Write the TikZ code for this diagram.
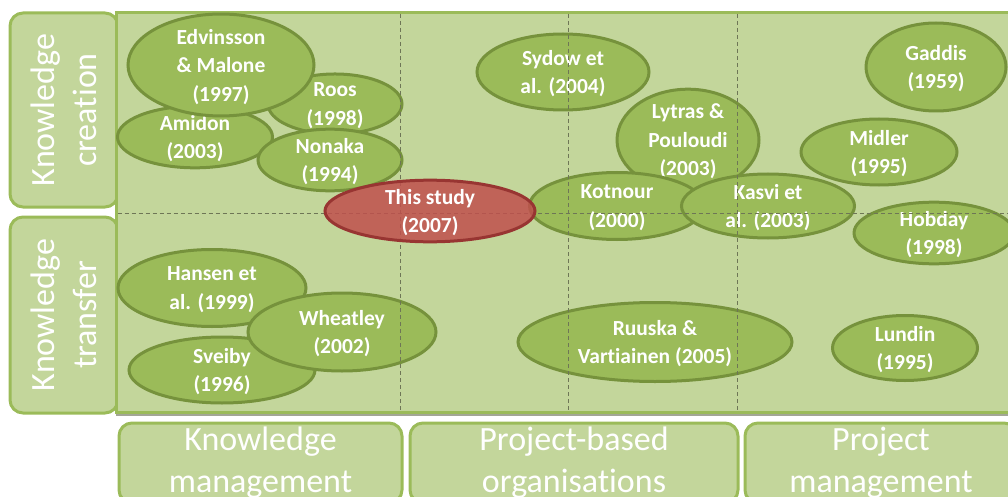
\documentclass[tikz,border=0pt]{standalone}
\usepackage{fontspec}
\setmainfont{Carlito}[Ligatures=NoCommon]
\usetikzlibrary{shapes.geometric}
\definecolor{panelfill}{HTML}{C3D69B}
\definecolor{panelline}{HTML}{9BBB59}
\definecolor{bubblefill}{HTML}{9BBB59}
\definecolor{bubbleline}{HTML}{76923C}
\definecolor{studyfill}{HTML}{C0504D}
\definecolor{studyline}{HTML}{983532}
\definecolor{gridline}{HTML}{6E7656}
\definecolor{shadowline}{HTML}{A3A696}
\begin{document}
\begin{tikzpicture}[x=1pt,y=-1pt,
  bubble/.style={ellipse, draw=bubbleline, fill=bubblefill, line width=3pt,
    inner sep=0pt, text=white, align=center, text depth=0pt,
    font=\fontsize{21.5}{28.5}\selectfont\bfseries},
  study/.style={bubble, draw=studyline, fill=studyfill, fill opacity=0.85,
    text opacity=1, draw opacity=1},
  axisbox/.style={rectangle, draw=panelline, fill=panelfill, line width=3pt,
    rounded corners=13pt, inner sep=0pt, text=white, align=center,
    font=\fontsize{34}{42}\selectfont},
  panel/.style={draw=panelline, fill=panelfill, line width=3pt},
  gridrule/.style={draw=gridline, line width=1pt, dash pattern=on 4pt off 3pt}]
\useasboundingbox (0,0) rectangle (1008,497);
\clip (0,0) rectangle (1008,497);

% axis labels
\node[axisbox, rotate=90, minimum width=194pt, minimum height=108pt] (creation) at (64,110) {Knowledge\\creation};
\node[axisbox, rotate=90, minimum width=196pt, minimum height=108pt] (transfer) at (64,315) {Knowledge\\transfer};
\node[axisbox, minimum width=283pt, minimum height=80pt] (km) at (260.5,463) {Knowledge\\management};
\node[axisbox, minimum width=328pt, minimum height=80pt] (pbo) at (574,463) {Project-based\\organisations};
\node[axisbox, minimum width=272pt, minimum height=80pt] (pm) at (881,463) {Project\\management};

% main panel
\coordinate (nw) at (116,13);
\coordinate (se) at (1020,412);
\draw[shadowline, line width=2.5pt] (116,414.5) -- (1008,414.5);
\path[panel] (nw) rectangle (se);

% literature bubbles
\node[bubble, minimum width=134pt, minimum height=53pt] (roos) at (335,104) {Roos\\(1998)};
\node[bubble, minimum width=155pt, minimum height=54pt] (amidon) at (195,137) {Amidon\\(2003)};
\node[bubble, minimum width=144pt, minimum height=54pt] (nonaka) at (330,160) {Nonaka\\(1994)};
\node[bubble, minimum width=186pt, minimum height=86pt] (edvinsson) at (221,65) {Edvinsson\\\&~Malone\\(1997)};

\node[bubble, minimum width=172pt, minimum height=76pt] (sydow) at (563,72) {Sydow et\\al. (2004)};
\node[bubble, minimum width=142pt, minimum height=84pt] (lytras) at (688,140) {Lytras \&\\Pouloudi\\(2003)};
\node[bubble, minimum width=175pt, minimum height=67pt] (kotnour) at (617,206) {Kotnour\\(2000)};
\node[bubble, minimum width=173pt, minimum height=64pt] (kasvi) at (768,206) {Kasvi et\\al. (2003)};

\node[bubble, minimum width=140pt, minimum height=88pt] (gaddis) at (936,67) {Gaddis\\(1959)};
\node[bubble, minimum width=156pt, minimum height=66pt] (midler) at (879,152) {Midler\\(1995)};
\node[bubble, minimum width=160pt, minimum height=54pt] (hobday) at (934,233) {Hobday\\(1998)};

\node[bubble, minimum width=188pt, minimum height=77pt] (hansen) at (212,288) {Hansen et\\al. (1999)};
\node[bubble, minimum width=186pt, minimum height=66pt] (sveiby) at (222,370) {Sveiby\\(1996)};
\node[bubble, minimum width=188pt, minimum height=78pt] (wheatley) at (342,332) {Wheatley\\(2002)};

\node[bubble, minimum width=274pt, minimum height=79pt] (ruuska) at (655,342) {Ruuska \&\\Vartiainen (2005)};
\node[bubble, minimum width=145pt, minimum height=65pt] (lundin) at (905,348) {Lundin\\(1995)};

% quadrant rules
\draw[gridrule] (400,14) -- (400,410.5);
\draw[gridrule] (568,14) -- (568,410.5);
\draw[gridrule] (737,14) -- (737,410.5);
\draw[gridrule] (117.5,213) -- (1008,213);

% the present study
\node[study, minimum width=210pt, minimum height=53pt] (thisstudy) at (430,211) {This study\\(2007)};
\end{tikzpicture}
\end{document}
